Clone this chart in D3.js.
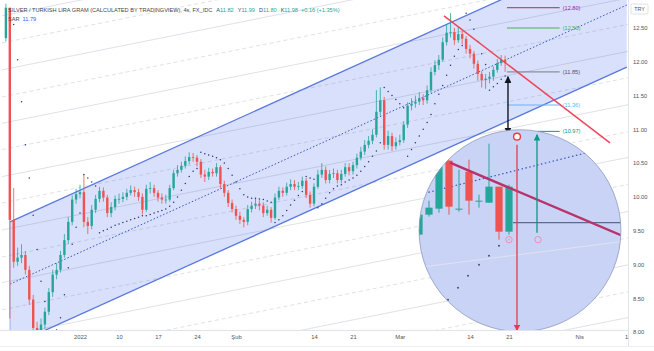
<!DOCTYPE html>
<html>
<head>
<meta charset="utf-8">
<script src="https://cdn.jsdelivr.net/npm/d3@7"></script>
<style>
  body { margin: 0; background: #fff; }
  text { font-family: "Liberation Sans", Arial, sans-serif; }
</style>
</head>
<body>
<div id="chart"></div>
<script>
// ---- data ----
// bars are half trading days, day 0 = first session of 2022
const firstBarDay = -9.5;
const barStep = 0.5;
const firstOpen = 12.35;
const closes = [
  12.80, 9.66, 9.04, 9.10, 9.14, 8.92, 8.48, 8.06, 8.03, 8.11,
  8.30, 8.59, 8.85, 8.92, 9.14, 9.36, 9.63, 9.96, 10.04, 10.07,
  9.63, 9.57, 9.81, 9.97, 10.09, 9.99, 9.76, 9.85, 9.97, 9.97,
  10.00, 10.06, 10.10, 10.07, 10.00, 9.81, 10.12, 10.13, 10.06, 9.99,
  9.96, 9.96, 10.13, 10.35, 10.40, 10.46, 10.53, 10.59, 10.58, 10.52,
  10.33, 10.30, 10.37, 10.35, 10.44, 10.19, 10.06, 9.91, 9.82, 9.72,
  9.66, 9.63, 9.82, 9.87, 9.90, 9.87, 9.76, 9.81, 9.69, 9.99,
  10.09, 10.06, 10.15, 10.19, 10.15, 10.16, 10.24, 10.03, 9.90, 10.15,
  10.33, 10.40, 10.25, 10.34, 10.35, 10.25, 10.34, 10.44, 10.38, 10.47,
  10.58, 10.67, 10.77, 10.83, 10.92, 11.26, 11.43, 10.77, 10.90, 10.75,
  10.81, 10.84, 11.07, 11.35, 11.38, 11.41, 11.46, 11.43, 11.58, 11.85,
  11.95, 12.03, 12.29, 12.43, 12.44, 12.32, 12.41, 12.34, 12.19, 12.12,
  11.97, 11.82, 11.73, 11.75, 11.78, 11.88, 11.98, 12.03, 11.98
];
const highs = [
  12.86, 12.80, 10.13, 9.25, 9.30, 9.20, 8.98, 8.55, 8.15, 8.20,
  8.36, 8.65, 8.92, 9.02, 9.20, 9.45, 9.70, 10.02, 10.12, 10.18,
  10.33, 9.70, 9.88, 10.03, 10.15, 10.14, 10.03, 9.92, 10.02, 10.05,
  10.07, 10.12, 10.17, 10.15, 10.12, 10.05, 10.18, 10.22, 10.18, 10.10,
  10.05, 10.03, 10.18, 10.40, 10.47, 10.52, 10.60, 10.66, 10.65, 10.62,
  10.56, 10.40, 10.43, 10.42, 10.50, 10.47, 10.24, 10.10, 9.96, 9.87,
  9.78, 9.70, 9.88, 9.93, 9.97, 9.95, 9.92, 9.87, 9.85, 10.05,
  10.15, 10.14, 10.21, 10.26, 10.25, 10.22, 10.30, 10.28, 10.08, 10.20,
  10.40, 10.50, 10.45, 10.40, 10.42, 10.40, 10.40, 10.50, 10.50, 10.52,
  10.64, 10.74, 10.84, 10.90, 11.00, 11.58, 11.62, 11.48, 10.98, 10.95,
  10.88, 10.92, 11.12, 11.40, 11.46, 11.50, 11.55, 11.52, 11.65, 11.92,
  12.02, 12.10, 12.36, 12.55, 12.72, 12.50, 12.52, 12.46, 12.38, 12.25,
  12.16, 12.02, 11.86, 11.82, 11.85, 11.93, 12.04, 12.10, 12.09
];
const lows = [
  12.30, 8.20, 8.95, 8.98, 9.02, 8.85, 8.40, 8.00, 7.97, 7.98,
  8.05, 8.25, 8.52, 8.78, 8.88, 9.10, 9.30, 9.58, 9.90, 9.98,
  9.55, 9.45, 9.52, 9.76, 9.92, 9.93, 9.70, 9.70, 9.80, 9.90,
  9.92, 9.95, 10.02, 10.00, 9.94, 9.74, 9.78, 10.05, 10.00, 9.93,
  9.90, 9.90, 9.93, 10.10, 10.30, 10.36, 10.42, 10.48, 10.52, 10.45,
  10.28, 10.22, 10.25, 10.30, 10.30, 10.12, 10.00, 9.85, 9.77, 9.66,
  9.60, 9.55, 9.58, 9.77, 9.82, 9.80, 9.70, 9.72, 9.62, 9.66,
  9.95, 10.00, 10.02, 10.10, 10.10, 10.10, 10.12, 9.98, 9.84, 9.86,
  10.12, 10.28, 10.20, 10.20, 10.28, 10.20, 10.20, 10.30, 10.32, 10.33,
  10.42, 10.54, 10.62, 10.72, 10.78, 10.88, 11.20, 10.70, 10.70, 10.68,
  10.70, 10.76, 10.80, 11.02, 11.28, 11.32, 11.36, 11.36, 11.38, 11.54,
  11.80, 11.88, 12.00, 12.24, 12.36, 12.25, 12.28, 12.26, 12.12, 12.05,
  11.90, 11.72, 11.62, 11.60, 11.68, 11.72, 11.84, 11.94, 11.85
];
// parabolic SAR per bar
const sar = [
  null, null, 12.55, 12.03, 11.41, 10.77, 10.28, 9.73, 9.22, 8.75,
  8.45, 7.97, 7.97, 8.03, 8.21, 8.55, 8.95, 9.30, 9.55, 9.76,
  10.33, 10.28, 10.22, 10.16, 9.47, 9.50, 9.52, 9.55, 9.58, 9.60,
  9.62, 9.64, 9.66, 9.68, 9.70, 9.72, 9.72, 9.74, 9.76, 9.78,
  9.80, 9.82, 9.86, 9.92, 10.00, 10.10, 10.20, 10.30, 10.38, 10.42,
  10.66, 10.64, 10.62, 10.60, 10.58, 10.55, 10.50, 10.42, 10.32, 10.22,
  10.12, 10.03, 10.00, 9.98, 9.98, 9.97, 9.96, 9.94, 9.92, 9.62,
  9.66, 9.72, 9.80, 9.88, 9.95, 10.02, 10.08, 10.30, 10.28, 10.26,
  9.84, 9.90, 9.98, 10.06, 10.12, 10.16, 10.18, 10.22, 10.25, 10.28,
  10.32, 10.38, 10.45, 10.52, 10.60, 10.68, 10.80, 11.62, 11.56, 11.50,
  11.44, 11.38, 11.32, 10.60, 10.70, 10.80, 10.90, 11.00, 11.10, 11.22,
  11.38, 11.52, 11.65, 11.80, 11.95, 12.08, 12.18, 12.24, 12.72, 12.62,
  12.48, 12.30, 12.12, 11.96, 11.58, 11.63, 11.68, 11.74, 11.79
];

// time axis (trading days) and price axis
const tickDays = [0, 5, 10, 15, 20, 30, 35, 41, 50, 55, 64, 70];
const tickLabels = ["2022", "10", "17", "24", "Şub", "14", "21", "Mar", "14", "21", "Nis", "1"];
const priceTicks = [8.0, 8.5, 9.0, 9.5, 10.0, 10.5, 11.0, 11.5, 12.0, 12.5];

// drawings: [day, price]
const channelUpper = [[-8.97, 9.63], [70.1, 13.76]];
const channelLower = [[-8.97, 7.79], [70.1, 11.92]];
const fanStarts = [12.68, 12.28, 11.88, 11.48, 11.09, 10.70, 10.30, 9.91, 9.51, 9.11, 8.73, 8.33, 7.93, 7.54, 7.14, 6.74, 6.36];
const fanSlope = 0.0231; // price per day
const fanDays = [-10, 71];
const trendLine = [[46.67, 12.68], [67.95, 10.80]];
const targetLevels = [12.80, 12.50, 11.85, 11.36, 10.97];
const targetLabels = ["(12.80)", "(12.50)", "(11.85)", "(11.36)", "(10.97)"];
const targetStartDays = [54.74, 54.74, 54.74, 54.74, 58.6];
const targetEndDay = 61.5;
const moveArrow = { day: 54.87, from: 11.78, to: 10.93 };

// magnifier: centre [day, price], radius in price units
const lensCenter = [56.41, 9.50];
const lensRadius = 1.494;
const lensOpen = [11.70, 11.90, 11.96, 12.44, 11.95, 12.33, 12.03, 12.02, 12.18, 11.73];
const lensClose = [11.90, 11.97, 12.38, 11.98, 11.96, 12.04, 12.04, 12.18, 11.73, 12.18];
const lensHigh = [11.92, 12.04, 12.45, 12.45, 12.35, 12.45, 12.10, 12.61, 12.18, 12.20];
const lensLow = [11.68, 11.88, 11.92, 11.90, 11.93, 11.90, 11.97, 12.02, 11.65, 11.70];
const lensTrend = [[3.1, 12.42], [21, 11.66]];
const lensMid = [[-1, 12.075], [21, 12.625]];
const lensGray = [[-1, 11.36], [21, 11.64]];
const lensLevel = [[9.4, 11.82], [21, 11.82]];
const lensSarIdx = [2.9, 3.9, 4.9, 6.0, 7.0, 8.0];
const lensSar = [11.05, 11.17, 11.29, 11.40, 11.49, 11.59];
const lensMarks = [[9.0, 11.65], [11.9, 11.65]];
const lensDown = { idx: 9.8, from: 12.60, to: 10.74, ring: 12.68 };
const lensUp = { idx: 11.8, from: 11.72, to: 12.70 };

// ---- layout ----
const W = 654, H = 351;
const plotW = 628, plotH = 330;
const green = "#26a69a", red = "#ef5350";

const x = d3.scaleLinear().domain([0, 70]).range([80, 626]);
const y = d3.scaleLinear().domain([8, 12.5]).range([332, 28]);

const svg = d3.select("#chart").append("svg")
  .attr("width", W).attr("height", H)
  .style("display", "block");

const defs = svg.append("defs");
defs.append("clipPath").attr("id", "plotClip")
  .append("rect").attr("width", plotW).attr("height", plotH);

function marker(id, color) {
  defs.append("marker").attr("id", id)
    .attr("viewBox", "0 0 10 10").attr("refX", 9).attr("refY", 5)
    .attr("markerWidth", 5).attr("markerHeight", 5)
    .attr("orient", "auto-start-reverse")
    .append("path").attr("d", "M0,0 L10,5 L0,10 z").attr("fill", color);
}
marker("arrBlack", "#131722");
marker("arrRed", "#f23645");
marker("arrTeal", "#089981");

svg.append("rect").attr("width", W).attr("height", H).attr("fill", "#fff");

const plot = svg.append("g").attr("clip-path", "url(#plotClip)");
const line = d3.line().x((d) => x(d[0])).y((d) => y(d[1]));

// fan of grey lines
plot.selectAll(".fan")
  .data(fanStarts)
  .enter()
  .append("path")
  .attr("d", (p) => line(fanDays.map((t) => [t, p + fanSlope * (t - fanDays[0])])))
  .attr("fill", "none")
  .attr("stroke", "#d6d9e0")
  .attr("stroke-width", 0.8)
  .attr("stroke-dasharray", (d, i) => (i % 2 ? "4,3" : null));

// regression channel
const channelPoly = channelUpper.concat(channelLower.slice().reverse());
plot.append("path")
  .attr("d", line(channelPoly) + "Z")
  .attr("fill", "rgba(66,100,235,0.2)");
const midLine = channelUpper.map((d, i) => [d[0], (d[1] + channelLower[i][1]) / 2]);
plot.append("path").attr("d", line(midLine))
  .attr("fill", "none").attr("stroke", "#3656c8").attr("stroke-width", 1)
  .attr("stroke-dasharray", "1.5,2");
[channelUpper, channelLower].forEach((c) => {
  plot.append("path").attr("d", line(c))
    .attr("fill", "none").attr("stroke", "#5a78e0").attr("stroke-width", 1.3);
});
plot.append("line")
  .attr("x1", x(channelUpper[0][0])).attr("x2", x(channelLower[0][0]))
  .attr("y1", y(channelUpper[0][1])).attr("y2", y(channelLower[0][1]))
  .attr("stroke", "#8aa0ec").attr("stroke-width", 0.8);

// candles
const bars = closes.map((c, i) => ({
  day: firstBarDay + i * barStep,
  open: i === 0 ? firstOpen : closes[i - 1],
  close: c,
  high: highs[i],
  low: lows[i],
  sar: sar[i],
}));
const candle = plot.selectAll(".candle").data(bars).enter().append("g");
candle.append("line")
  .attr("x1", (d) => x(d.day)).attr("x2", (d) => x(d.day))
  .attr("y1", (d) => y(d.high)).attr("y2", (d) => y(d.low))
  .attr("stroke", (d) => (d.close >= d.open ? green : red))
  .attr("stroke-width", 0.8);
candle.append("rect")
  .attr("x", (d) => x(d.day) - 1.2)
  .attr("width", 2.4)
  .attr("y", (d) => y(Math.max(d.open, d.close)))
  .attr("height", (d) => Math.max(0.8, Math.abs(y(d.open) - y(d.close))))
  .attr("fill", (d) => (d.close >= d.open ? green : red));

// SAR dots
plot.selectAll(".sar")
  .data(bars.filter((d) => d.sar !== null))
  .enter()
  .append("circle")
  .attr("cx", (d) => x(d.day))
  .attr("cy", (d) => y(d.sar))
  .attr("r", 0.75)
  .attr("fill", "#26338a");

// falling trend line
plot.append("path").attr("d", line(trendLine))
  .attr("fill", "none").attr("stroke", "#f0455c").attr("stroke-width", 1.5);

// target levels
const targetColors = ["#b02a5b", "#4caf50", "#787b86", "#64b5f6", "#089981"];
const labelColors = ["#9c27b0", "#4caf50", "#50535e", "#64b5f6", "#089981"];
targetLevels.forEach((p, i) => {
  plot.append("line")
    .attr("x1", x(targetStartDays[i])).attr("x2", x(targetEndDay))
    .attr("y1", y(p)).attr("y2", y(p))
    .attr("stroke", targetColors[i]).attr("stroke-width", 1);
  plot.append("text")
    .attr("x", x(targetEndDay) + 3).attr("y", y(p) + 2)
    .attr("font-size", 5.6).attr("fill", labelColors[i])
    .text(targetLabels[i]);
});

// black measuring arrow
plot.append("line")
  .attr("x1", x(moveArrow.day)).attr("x2", x(moveArrow.day))
  .attr("y1", y(moveArrow.from)).attr("y2", y(moveArrow.to))
  .attr("stroke", "#131722").attr("stroke-width", 1.4)
  .attr("marker-start", "url(#arrBlack)")
  .attr("marker-end", "url(#arrBlack)");

// ---- magnifier lens ----
const cx = x(lensCenter[0]), cy = y(lensCenter[1]);
const r = y(lensCenter[1] - lensRadius) - cy;
defs.append("clipPath").attr("id", "lensClip")
  .append("circle").attr("cx", cx).attr("cy", cy).attr("r", r);
const lx = d3.scaleLinear().domain([0, 9]).range([cx - 101, cx - 11]);
const ly = d3.scaleLinear().domain([11.73, 12.44]).range([cy + 1, cy - 70]);
const lline = d3.line().x((d) => lx(d[0])).y((d) => ly(d[1]));

plot.append("circle").attr("cx", cx).attr("cy", cy).attr("r", r)
  .attr("fill", "#c9d3f6");
const lens = plot.append("g").attr("clip-path", "url(#lensClip)");
lens.append("path").attr("d", lline(lensGray))
  .attr("fill", "none").attr("stroke", "#dfe3f0").attr("stroke-width", 1);
lens.append("path").attr("d", lline(lensMid))
  .attr("fill", "none").attr("stroke", "#3656c8").attr("stroke-width", 1.2)
  .attr("stroke-dasharray", "1.5,2.5");
lens.append("path").attr("d", lline(lensLevel))
  .attr("fill", "none").attr("stroke", "#5e6a94").attr("stroke-width", 1.2);

const lensBars = lensClose.map((c, i) => ({
  i: i, open: lensOpen[i], close: c, high: lensHigh[i], low: lensLow[i],
}));
const lc = lens.selectAll(".lc").data(lensBars).enter().append("g");
lc.append("line")
  .attr("x1", (d) => lx(d.i)).attr("x2", (d) => lx(d.i))
  .attr("y1", (d) => ly(d.high)).attr("y2", (d) => ly(d.low))
  .attr("stroke", (d) => (d.close >= d.open ? green : red))
  .attr("stroke-width", 1);
lc.append("rect")
  .attr("x", (d) => lx(d.i) - 3.6).attr("width", 7.2)
  .attr("y", (d) => ly(Math.max(d.open, d.close)))
  .attr("height", (d) => Math.max(1, Math.abs(ly(d.open) - ly(d.close))))
  .attr("fill", (d) => (d.close >= d.open ? green : red));

lens.append("path").attr("d", lline(lensTrend))
  .attr("fill", "none").attr("stroke", "#b8336a").attr("stroke-width", 2.4);
lens.selectAll(".ls").data(lensSar).enter().append("circle")
  .attr("cx", (d, i) => lx(lensSarIdx[i])).attr("cy", (d) => ly(d))
  .attr("r", 1).attr("fill", "#4b5170");
lens.selectAll(".lm").data(lensMarks).enter().append("circle")
  .attr("cx", (d) => lx(d[0])).attr("cy", (d) => ly(d[1]))
  .attr("r", 3.2).attr("fill", "none")
  .attr("stroke", "#e991b8").attr("stroke-width", 1);
lens.append("circle").attr("cx", lx(lensMarks[0][0])).attr("cy", ly(lensMarks[0][1]))
  .attr("r", 0.8).attr("fill", "#e991b8");

plot.append("circle").attr("cx", cx).attr("cy", cy).attr("r", r)
  .attr("fill", "none").attr("stroke", "#8f99bd").attr("stroke-width", 0.8);

// arrows across the lens
plot.append("line")
  .attr("x1", lx(lensDown.idx)).attr("x2", lx(lensDown.idx))
  .attr("y1", ly(lensDown.from)).attr("y2", ly(lensDown.to))
  .attr("stroke", "#f23645").attr("stroke-width", 1.3)
  .attr("marker-end", "url(#arrRed)");
plot.append("circle")
  .attr("cx", lx(lensDown.idx)).attr("cy", ly(lensDown.ring)).attr("r", 3.4)
  .attr("fill", "#fff").attr("stroke", "#f23645").attr("stroke-width", 1.4);
plot.append("line")
  .attr("x1", lx(lensUp.idx)).attr("x2", lx(lensUp.idx))
  .attr("y1", ly(lensUp.from)).attr("y2", ly(lensUp.to))
  .attr("stroke", "#089981").attr("stroke-width", 1.3)
  .attr("marker-end", "url(#arrTeal)");

// ---- header ----
const head = svg.append("text").attr("x", 8).attr("y", 12)
  .attr("font-size", 5.6).attr("fill", "#434651");
head.append("tspan").text("SILVER / TURKISH LIRA GRAM (CALCULATED BY TRADINGVIEW), 4s, FX_IDC");
[["A", "11.82"], ["Y", "11.99"], ["D", "11.80"], ["K", "11.98"]].forEach((p) => {
  head.append("tspan").attr("dx", 4).text(p[0]);
  head.append("tspan").attr("fill", green).text(p[1]);
});
head.append("tspan").attr("dx", 3).attr("fill", green).text("+0.16 (+1.35%)");
const sarHead = svg.append("text").attr("x", 8).attr("y", 21)
  .attr("font-size", 5.6).attr("fill", "#434651");
sarHead.append("tspan").text("SAR");
sarHead.append("tspan").attr("dx", 3).attr("fill", "#2962ff").text("11.79");

// ---- axes ----
svg.append("rect").attr("x", plotW).attr("y", 0)
  .attr("width", W - plotW).attr("height", H).attr("fill", "#fff");
svg.append("rect").attr("x", 0).attr("y", plotH)
  .attr("width", W).attr("height", H - plotH).attr("fill", "#fff");
svg.append("line").attr("x1", plotW + 0.5).attr("x2", plotW + 0.5)
  .attr("y1", 0).attr("y2", plotH + 16).attr("stroke", "#e0e3eb");
svg.append("line").attr("x1", 0).attr("x2", plotW)
  .attr("y1", plotH + 0.5).attr("y2", plotH + 0.5).attr("stroke", "#e0e3eb");
svg.append("line").attr("x1", 0).attr("x2", W)
  .attr("y1", plotH + 16.5).attr("y2", plotH + 16.5).attr("stroke", "#eceef2");

const yAxis = d3.axisRight(y).tickValues(priceTicks)
  .tickFormat(d3.format(".2f")).tickSize(0).tickPadding(0);
svg.append("g")
  .attr("transform", `translate(${plotW + 5},0)`)
  .call(yAxis)
  .call((g) => g.select(".domain").remove())
  .call((g) => g.selectAll("text")
    .attr("font-size", 5.8).attr("fill", "#50535e")
    .attr("font-family", "Liberation Sans, Arial, sans-serif"));

const xAxis = d3.axisBottom(x).tickValues(tickDays)
  .tickFormat((d, i) => tickLabels[i]).tickSize(0).tickPadding(5);
svg.append("g")
  .attr("transform", `translate(0,${plotH})`)
  .call(xAxis)
  .call((g) => g.select(".domain").remove())
  .call((g) => g.selectAll("text")
    .attr("font-size", 5.8).attr("fill", "#50535e")
    .attr("font-family", "Liberation Sans, Arial, sans-serif"));

// currency tag
svg.append("rect").attr("x", 631).attr("y", 4).attr("width", 17).attr("height", 10)
  .attr("rx", 1.5).attr("fill", "#fff").attr("stroke", "#d1d4dc").attr("stroke-width", 0.7);
svg.append("text").attr("x", 639.5).attr("y", 11).attr("text-anchor", "middle")
  .attr("font-size", 5.4).attr("fill", "#50535e").text("TRY");
</script>
</body>
</html>
